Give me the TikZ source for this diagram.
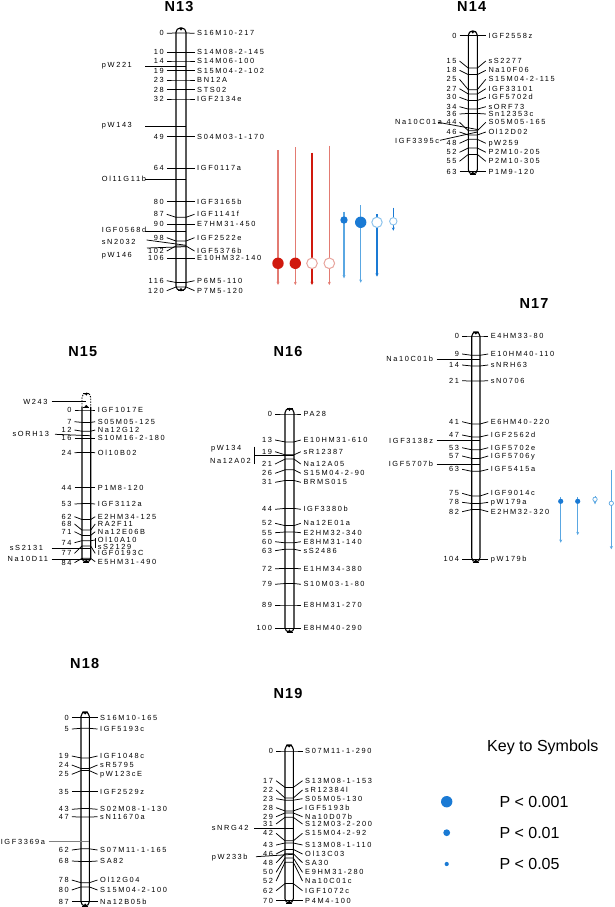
\documentclass[tikz,border=0pt]{standalone}
\usepackage{fontspec}
\setmainfont{Liberation Sans}
\newfontfamily\labfont[LetterSpace=22]{Liberation Sans}
\newfontfamily\titfont[LetterSpace=8]{Liberation Sans}
\usetikzlibrary{arrows.meta}
\definecolor{redc}{HTML}{D0190E}
\definecolor{redl}{HTML}{E37B72}
\definecolor{redo}{HTML}{E8A59E}
\definecolor{bluec}{HTML}{1A7AD4}
\definecolor{bluel}{HTML}{5AA7E2}
\definecolor{bluelo}{HTML}{8CC3EC}
\tikzset{
  numst/.style={font=\labfont\fontsize{7.4}{8}\selectfont, inner sep=0pt, text height=5.3pt, text depth=0pt, anchor=east},
  labst/.style={font=\labfont\fontsize{7.4}{8}\selectfont, inner sep=0pt, text height=5.3pt, text depth=0pt, anchor=west},
  labe/.style={labst, anchor=east},
  mk/.style={line width=0.75pt},
  barst/.style={draw, line width=1.1pt, fill=white, rounded corners=4.3pt},
  titst/.style={font=\titfont\bfseries\fontsize{14.5}{16}\selectfont, inner sep=0pt},
  keyst/.style={font=\fontsize{16}{18}\selectfont, inner sep=0pt},
  arr/.style={line width=1.1pt, -{Stealth[length=3.2pt,width=3pt]}},
}
\newcommand\markers[2]{%
  \foreach \by/\ly/\n/\ry/\m [count=\i] in {#2} {%
    \node[numst] (#1n\i) at (\xa,\ly) {\n};
    \node[labst] (#1m\i) at (\xf,\ry) {\m};
    \draw[mk] ([xshift=2.8pt]#1n\i.east) -- (\xc,\by) -- (\xd,\by) -- ([xshift=-2.5pt]#1m\i.west);
  }}
\newcommand\telo[3]{%
  \draw[line width=0.8pt] ({#1-3},#2) -- ({#1+3},#2);
  \fill ({#1-2},#2) -- ({#1+2},#2) -- ({#1},{#2+(#3)}) -- cycle;}
\newcommand\chromo[4]{%
  \draw[barst] (#1,#3) rectangle (#2,#4);
  \telo{(#1+#2)/2}{#3}{2.6}
  \telo{(#1+#2)/2}{#4}{-2.6}}
\begin{document}
\begin{tikzpicture}[x=1pt,y=-1pt]
\useasboundingbox (0,0) rectangle (614,907);
% titles
\node[titst] (t13) at (179,7) {N13};
\node[titst] (t14) at (471.7,6.7) {N14};
\node[titst] (t15) at (82.8,351.7) {N15};
\node[titst] (t16) at (288,351.7) {N16};
\node[titst] (t17) at (534,304) {N17};
\node[titst] (t18) at (84.7,663.3) {N18};
\node[titst] (t19) at (288,693) {N19};

% ---------------- N13
\chromo{176}{186}{28}{290.5}
\def\xa{164}\def\xc{176}\def\xd{186}\def\xf{197}
\markers{c13}{33/33.3/0/33.3/S16M10-217, 52.3/52.3/10/52.3/S14M08-2-145, 61/61/14/61/S14M06-100, 70.7/70.7/19/70.7/S15M04-2-102, 80/80/23/80/BN12A, 89.7/89.7/28/89.7/STS02, 99/99/32/99/IGF2134e, 136.7/136.7/49/136.7/S04M03-1-170, 168.3/168.3/64/168.3/IGF0117a, 201.7/201.7/80/201.7/IGF3165b, 217.3/214.3/87/214.3/IGF1141f, 224.3/224.3/90/224.3/E7HM31-450, 241/237.7/98/237.7/IGF2522e, 246/251/102/251/IGF5376b, 258.3/258.3/106/258.3/E10HM32-140, 282.5/280.7/116/280.7/P6M5-110, 287/290.7/120/290.7/P7M5-120}
\node[labst] (x13a) at (101.7,64.7) {pW221};
\node[labst] (x13b) at (101.7,125.3) {pW143};
\node[labst] (x13c) at (101.7,179) {Ol11G11b};
\node[labst] (x13d) at (101.7,230.3) {IGF0568d};
\node[labst] (x13e) at (101.7,241.7) {sN2032};
\node[labst] (x13f) at (101.7,255) {pW146};
\draw[mk] (145,66) -- (186,66);
\draw[mk] (145,126) -- (186,126);
\draw[mk] (145,179) -- (186,179);
\draw[mk] (145,231) -- (186,231);
\draw[mk] (146.7,240) -- (186,245.3);
\draw[mk] (147,248) -- (186,246.7);

% red / blue arrows near N13
\foreach \x/\t/\c/\f in {278/150/redl/redc, 295.3/147.3/redl/redc, 312/152.7/redc/white, 329.3/145.7/redl/white}{
  \draw[arr, draw=\c] (\x,\t) -- (\x,285);
}
\fill[redc] (278,263.3) circle (5.7);
\fill[redc] (295.3,263.3) circle (5.7);
\filldraw[fill=white, draw=redo, line width=1pt] (312,263.3) circle (5.3);
\filldraw[fill=white, draw=redo, line width=1pt] (329.3,263.3) circle (5.3);
\draw[arr, draw=bluel] (344,211.7) -- (344,278.3);
\draw[arr, draw=bluel] (360.7,205.3) -- (360.7,282.7);
\draw[arr, draw=bluec] (377,214) -- (377,276.7);
\draw[arr, draw=bluec] (393.3,207.7) -- (393.3,230.7);
\fill[bluec] (344,220) circle (3.7);
\fill[bluec] (360.7,222.3) circle (5.7);
\filldraw[fill=white, draw=bluelo, line width=1pt] (377,222.3) circle (5.2);
\filldraw[fill=white, draw=bluelo, line width=0.9pt] (393.3,221.3) circle (3.7);

% ---------------- N14
\chromo{468.3}{477.3}{31}{174}
\def\xa{456.7}\def\xc{468.3}\def\xd{477.3}\def\xf{488.3}
\markers{c14}{35.7/35.7/0/35.7/IGF2558z, 68.1/61/15/61/sS2277, 74.6/70.3/18/70.3/Na10F06, 89.7/79.3/25/79.3/S15M04-2-115, 94/88.7/27/88.7/IGF33101, 100.5/97.3/30/97.3/IGF5702d, 109.1/106.7/34/106.7/sORF73, 113.4/114/36/114/Sn12353c, 130.7/122.3/44/122.3/S05M05-165, 135/132/46/132/Ol12D02, 139.3/143.3/48/143.3/pW259, 148/152.3/52/152.3/P2M10-205, 154.4/161.3/55/161.3/P2M10-305, 171.7/171.7/63/171.7/P1M9-120}
\node[labst] (x14a) at (395,122.3) {Na10C01a};
\node[labst] (x14b) at (395,141.3) {IGF3395c};
\draw[mk] (438,122.3) -- (477.3,129.5);
\draw[mk] (440,140.3) -- (477.3,132);

% ---------------- N15
\fill[white] (82,407) rectangle (90.7,562);
\draw[line width=1.1pt, rounded corners=4.3pt] (82,407) -- (82,562) -- (90.7,562) -- (90.7,407);
\draw[line width=0.9pt, dashed, dash pattern=on 1.5pt off 1.2pt, rounded corners=4.3pt] (82,407) -- (82,393) -- (90.7,393) -- (90.7,407);
\telo{86.3}{393}{2.6}
\telo{86.3}{407}{-2.2}
\telo{86.3}{562}{-2.6}
\def\xa{71.7}\def\xc{82}\def\xd{90.7}\def\xf{97.7}
\markers{c15}{410/410/0/410/IGF1017E, 422.4/421.7/7/421.7/S05M05-125, 431.2/430/12/430/Na12G12, 438.3/438.3/16/438.3/S10M16-2-180, 452.4/452.7/24/452.7/Ol10B02, 487.7/487.7/44/487.7/P1M8-120, 503.6/504/53/504/IGF3112a, 519.5/516.7/62/516.7/E2HM34-125, 530.1/524/68/524/RA2F11, 535.4/531.7/71/531.7/Na12E06B, 540.7/542.7/74/540/Ol10A10, 546/553.3/77/553.3/IGF0193C, 558.3/562.7/84/561.7/E5HM31-490}
\node[labst] (x15s) at (97.7,546.7) {sS2129};
\draw[mk] (95.2,538.3) -- (95.2,548.3);
\node[labe] (x15a) at (47.7,401.7) {W243};
\node[labe] (x15b) at (49.3,434.3) {sORH13};
\node[labe] (x15c) at (43.3,548.3) {sS2131};
\node[labe] (x15d) at (48.3,559) {Na10D11};
\draw[mk] (51.7,401.7) -- (86,401.7);
\draw[mk] (55,434.3) -- (90.7,435.7);
\draw[mk] (51.7,548.3) -- (90.7,548.3);
\draw[mk] (51.7,559) -- (90.7,559);

% ---------------- N16
\chromo{285}{294}{408.5}{632}
\def\xa{272.3}\def\xc{285}\def\xd{294}\def\xf{303.3}
\markers{c16}{414/414/0/414/PA28, 441.9/440/13/440/E10HM31-610, 454.8/451.7/19/451.7/sR12387, 459.1/464/21/464/Na12A05, 469.8/473.3/26/473.3/S15M04-2-90, 480.5/482.3/31/482.3/BRMS015, 508.4/509.3/44/509.3/IGF3380b, 525.6/523.3/52/523.3/Na12E01a, 532/532.7/55/532.7/E2HM32-340, 542.8/541.7/60/541.7/E8HM31-140, 549.2/550.7/63/550.7/sS2486, 568.5/568.7/72/568.7/E1HM34-380, 583.5/584.3/79/584.3/S10M03-1-80, 605/605/89/605/E8HM31-270, 628.3/628.3/100/628.3/E8HM40-290}
\node[labst] (x16a) at (211,448.3) {pW134};
\node[labst] (x16b) at (210,460.7) {Na12A02};
\draw[mk] (254,446.7) -- (254,464);
\draw[mk] (254,455) -- (294,455);

% ---------------- N17
\chromo{471.7}{480}{332}{562}
\def\xa{459.3}\def\xc{471.7}\def\xd{480}\def\xf{490.7}
\markers{c17}{336/336/0/336/E4HM33-80, 355.3/354/9/354/E10HM40-110, 366/365/14/365/sNRH63, 381.1/380.7/21/380.7/sN0706, 424/421.7/41/421.7/E6HM40-220, 436.9/435/47/435/IGF2562d, 449.8/447.7/53/447.7/IGF5702e, 458.4/456/57/456/IGF5706y, 471.3/469.3/63/469.3/IGF5415a, 496/493.3/75/493.3/IGF9014c, 503.5/502.3/78/502.3/pW179a, 509.5/511.7/82/511.7/E2HM32-320, 559.3/559.3/104/559.3/pW179b}
\node[labe] (x17a) at (433.3,359.3) {Na10C01b};
\node[labe] (x17b) at (433.3,440.7) {IGF3138z};
\node[labe] (x17c) at (433.3,464) {IGF5707b};
\draw[mk] (436.7,359.3) -- (480,359.3);
\draw[mk] (436.7,440.7) -- (480,440.7);
\draw[mk] (436.7,464) -- (480,464);
% blue arrows near N17
\draw[arr, line width=0.9pt, draw=bluel] (560.7,497.3) -- (560.7,542.7);
\draw[arr, line width=0.9pt, draw=bluel] (577.7,497.3) -- (577.7,535);
\draw[arr, line width=0.9pt, draw=bluel] (595,496) -- (595,504.3);
\draw[arr, line width=0.9pt, draw=bluel] (611.3,470) -- (611.3,549.3);
\fill[bluec] (560.7,501.3) circle (2.6);
\fill[bluec] (577.7,501.3) circle (2.6);
\filldraw[fill=white, draw=bluel, line width=0.7pt] (595,499.3) circle (2.2);
\filldraw[fill=white, draw=bluel, line width=0.7pt] (611.3,503.3) circle (2.2);

% ---------------- N18
\chromo{81}{89.3}{712}{906}
\def\xa{69}\def\xc{81}\def\xd{89.3}\def\xf{100}
\markers{c18}{717.7/717.7/0/717.7/S16M10-165, 728.3/729/5/729/IGF5193c, 757.9/756/19/756/IGF1048c, 768.5/765/24/765/sR5795, 770.6/774.3/25/774.3/pW123cE, 791.7/791.7/35/791.7/IGF2529z, 808.6/809.3/43/809.3/S02M08-1-130, 817.1/816.7/47/816.7/sN11670a, 848.8/850/62/850/S07M11-1-165, 861.5/861/68/861/SA82, 882.7/880/78/880/Ol12G04, 886.9/890/80/890/S15M04-2-100, 901.7/901.7/87/901.7/Na12B05b}
\node[labst] (x18a) at (0.6,841.7) {IGF3369a};
\draw[mk, draw=gray] (48.5,841.7) -- (89.3,841.7);

% ---------------- N19
\chromo{285}{293.3}{745}{903}
\def\xa{273.3}\def\xc{285}\def\xd{293.3}\def\xf{305}
\markers{c19}{751/751/0/751/S07M11-1-290, 787.4/780.7/17/780.7/S13M08-1-153, 798/790/22/790/sR12384l, 800.2/798.7/23/798.7/S05M05-130, 810.9/807.7/28/807.7/IGF5193b, 813/816.7/29/816.7/Na10D07b, 817.3/824/31/824/S12M03-2-200, 840.8/833.3/42/833.3/S15M04-2-92, 843/845/43/845/S13M08-1-110, 849.4/854/46/854/Ol13C03, 853.7/862.7/48/862.7/SA30, 858/872.3/50/872.3/E9HM31-280, 862.2/881/52/881/Na10C01c, 883.6/890.7/62/890.7/IGF1072c, 900.7/900.7/70/900.7/P4M4-100}
\node[labst] (x19a) at (211.7,827.7) {sNRG42};
\node[labst] (x19b) at (211.7,856.7) {pW233b};
\draw[mk] (254,828.3) -- (293.3,828.3);
\draw[mk] (256,856.7) -- (293.3,854.3);

% ---------------- key
\node[keyst] (key) at (542.8,747.7) {Key to Symbols};
\fill[bluec] (446.7,801.7) circle (5.7);
\fill[bluec] (446.7,832.7) circle (3.4);
\fill[bluec] (446.7,864) circle (2.1);
\node[keyst, anchor=west] (k1) at (499.3,801.7) {P < 0.001};
\node[keyst, anchor=west] (k2) at (499.3,832.7) {P < 0.01};
\node[keyst, anchor=west] (k3) at (499.3,864) {P < 0.05};
\end{tikzpicture}
\end{document}
